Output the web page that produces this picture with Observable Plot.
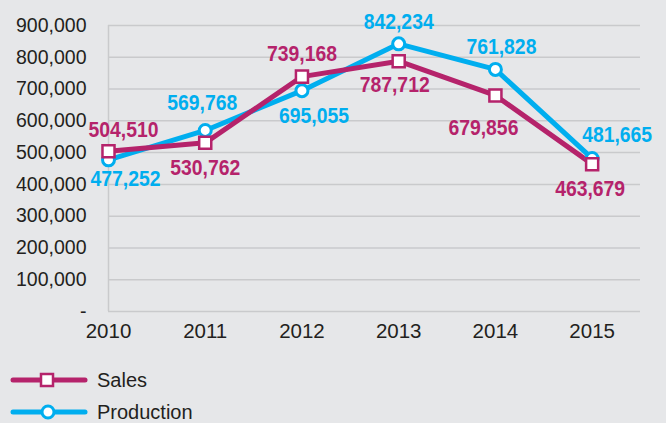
<!DOCTYPE html>
<html>
<head>
<meta charset="utf-8">
<script src="https://cdn.jsdelivr.net/npm/d3@7"></script>
<script src="https://cdn.jsdelivr.net/npm/@observablehq/plot@0.6"></script>
<style>
  html, body { margin: 0; padding: 0; background: #e6e7e9; }
  #wrap { width: 666px; height: 423px; overflow: hidden; background: #e6e7e9; font-family: "Liberation Sans", Arial, sans-serif; }
  .legend { position: relative; height: 78px; }
  .legend .item { position: absolute; left: 10px; display: flex; align-items: center; font-size: 20px; color: #231f20; }
  .legend .item span { margin-left: 9px; }
</style>
</head>
<body>
<div id="wrap"></div>
<script>
const years = [2010, 2011, 2012, 2013, 2014, 2015];
const sales = [504510, 530762, 739168, 787712, 679856, 463679];
const production = [477252, 569768, 695055, 842234, 761828, 481665];
const yTicks = [0, 100000, 200000, 300000, 400000, 500000, 600000, 700000, 800000, 900000];
const seriesNames = ["Sales", "Production"];
const seriesColors = ["#b5236b", "#00aeef"];

// label placements (pixel offsets), kept apart from data
const salesLabelOffset = [[15, -21], [0, 25], [0, -23], [-4, 24], [-12, 32], [-2, 25]];
const prodLabelOffset = [[17, 19], [-3, -27], [12, 25], [0, -22], [6, -22], [25, -23]];

const salesData = years.map((y, i) => ({year: y, value: sales[i], dx: salesLabelOffset[i][0], dy: salesLabelOffset[i][1]}));
const prodData = years.map((y, i) => ({year: y, value: production[i], dx: prodLabelOffset[i][0], dy: prodLabelOffset[i][1]}));

const fmt = d3.format(",");
const labelFont = "'Liberation Sans', Arial, sans-serif";

function labels(data, color) {
  return data.map(d => Plot.text([d], {
    x: "year", y: "value", text: d => fmt(d.value),
    dx: d.dx, dy: d.dy, fill: color, fontSize: 22, fontWeight: "bold",
    fontFamily: labelFont, className: "vlabel"
  }));
}

const chart = Plot.plot({
  width: 666,
  height: 345,
  marginLeft: 108,
  marginRight: 26,
  marginTop: 25,
  marginBottom: 34,
  style: { background: "#e6e7e9", fontFamily: "'Liberation Sans', Arial, sans-serif", fontSize: "19px", color: "#231f20", overflow: "visible" },
  x: { domain: [2010, 2015.5], label: null },
  y: { domain: [0, 900000], label: null },
  marks: [
    Plot.ruleY(yTicks, { stroke: "#c9cacc", strokeWidth: 1.5 }),
    Plot.ruleX([2010], { stroke: "#c9cacc", strokeWidth: 1.5 }),
    Plot.axisX({ ticks: years, tickFormat: d => String(d), tickSize: 0, tickPadding: 12, fontSize: 20.5, fill: "#231f20" }),
    Plot.axisY({ ticks: yTicks, tickFormat: d => d === 0 ? "-" : fmt(d), tickSize: 0, tickPadding: 22, fontSize: 19.5, fill: "#231f20" }),
    Plot.line(prodData, { x: "year", y: "value", stroke: seriesColors[1], strokeWidth: 5 }),
    Plot.line(salesData, { x: "year", y: "value", stroke: seriesColors[0], strokeWidth: 5 }),
    Plot.dot(prodData, { x: "year", y: "value", symbol: "circle", r: 6, fill: "white", stroke: seriesColors[1], strokeWidth: 3 }),
    Plot.dot(salesData, { x: "year", y: "value", symbol: "square", r: 6.8, fill: "white", stroke: seriesColors[0], strokeWidth: 2.5 }),
    ...labels(salesData, seriesColors[0]),
    ...labels(prodData, seriesColors[1])
  ]
});

const wrap = document.getElementById("wrap");
wrap.appendChild(chart);

// condense the value labels horizontally
chart.querySelectorAll(".vlabel text").forEach(t => {
  t.setAttribute("textLength", 70);
  t.setAttribute("lengthAdjust", "spacingAndGlyphs");
});

const legend = document.createElement("div");
legend.className = "legend";
const tops = [35, 67];
seriesNames.forEach((name, i) => {
  const item = document.createElement("div");
  item.className = "item";
  item.style.top = (tops[i] - 12) + "px";
  const marker = i === 0
    ? `<rect x="31" y="6" width="12" height="12" fill="white" stroke="${seriesColors[i]}" stroke-width="2.5"/>`
    : `<circle cx="38" cy="12" r="6" fill="white" stroke="${seriesColors[i]}" stroke-width="3"/>`;
  item.innerHTML = `<svg width="78" height="24"><line x1="3" y1="12" x2="75" y2="12" stroke="${seriesColors[i]}" stroke-width="5" stroke-linecap="round"/>${marker}</svg><span>${name}</span>`;
  legend.appendChild(item);
});
wrap.appendChild(legend);
</script>
</body>
</html>
